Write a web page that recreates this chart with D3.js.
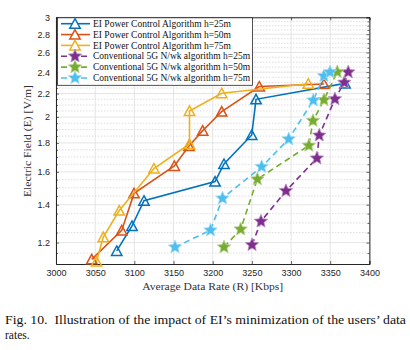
<!DOCTYPE html>
<html><head><meta charset="utf-8">
<script src="https://cdn.jsdelivr.net/npm/d3@7"></script>
<style>body{margin:0;background:#fff}svg{display:block}</style>
</head><body>
<svg id="c" width="410" height="350"></svg>
<script>
// ---- data ----
const xTicks = [3000,3050,3100,3150,3200,3250,3300,3350,3400];
const yTicks = [1.2,1.4,1.6,1.8,2,2.2,2.4,2.6,2.8,3];
const seriesNames = [
  "EI Power Control Algorithm h=25m",
  "EI Power Control Algorithm h=50m",
  "EI Power Control Algorithm h=75m",
  "Conventional 5G N/wk algorithm h=25m",
  "Conventional 5G N/wk algorithm h=50m",
  "Conventional 5G N/wk algorithm h=75m"
];
const eiRate25 = [3077.5,3097,3112.3,3203,3214.4,3249.8,3255.3,3368.9];
const eiField25 = [1.16,1.284,1.423,1.538,1.652,1.859,2.149,2.293];
const eiRate50 = [3045.6,3083.9,3099.6,3151,3169.7,3187.2,3211.5,3259.5,3342];
const eiField50 = [1.121,1.261,1.466,1.639,1.778,1.892,2.045,2.264,2.287];
const eiRate75 = [3051.7,3060.4,3080.7,3125,3170.4,3170.4,3211.5,3322];
const eiField75 = [1.111,1.227,1.367,1.622,1.792,2.05,2.203,2.29];
const convRate25 = [3250.2,3261.6,3293.5,3333,3336,3356,3368,3373];
const convField25 = [1.189,1.308,1.481,1.691,1.856,2.152,2.301,2.4];
const convRate50 = [3214.4,3235.7,3257,3322.7,3328,3342,3359];
const convField50 = [1.178,1.267,1.553,1.781,1.97,2.144,2.402];
const convRate75 = [3151.9,3197.2,3212.5,3262.5,3297,3328.4,3342,3349.7];
const convField75 = [1.178,1.262,1.437,1.634,1.828,2.141,2.363,2.40];
const caption1 = "Fig. 10.\u00a0\u00a0Illustration of the impact of EI\u2019s minimization of the users\u2019 data";
const caption2 = "rates.";

// ---- styles ----
const colors = ["#0072BD","#D95319","#EDB120","#7E2F8E","#77AC30","#4DBEEE"];
const series = [
  {x:eiRate25,y:eiField25,dash:null,mark:"tri"},
  {x:eiRate50,y:eiField50,dash:null,mark:"tri"},
  {x:eiRate75,y:eiField75,dash:null,mark:"tri"},
  {x:convRate25,y:convField25,dash:"6,4",mark:"star"},
  {x:convRate50,y:convField50,dash:"6,4",mark:"star"},
  {x:convRate75,y:convField75,dash:"6,4",mark:"star"}
].map((s,i)=>({...s,color:colors[i],name:seriesNames[i]}));

const svg = d3.select("#c");
const L=56, R=369.4, T=17.3, B=264;
const x = d3.scaleLinear().domain([3000,3400]).range([L,R]);
const y = d3.scaleLog().domain([1.1,3]).range([B,T]);
const axisCol = "#262626";
const sans = "'Liberation Sans', Arial, sans-serif";
const serif = "'Liberation Serif', 'DejaVu Serif', serif";

const minor = d3.range(23,60).map(v=>v*0.05).filter(v=>Math.abs(Math.round(v*5)-v*5)>1e-6 && v>1.12 && v<2.99);

const g = svg.append("g");
g.selectAll(".mg").data(minor).join("line")
  .attr("x1",L).attr("x2",R).attr("y1",d=>y(d)).attr("y2",d=>y(d))
  .attr("stroke","#c8c8c8").attr("stroke-width",0.6).attr("stroke-dasharray","1.5,1.5");
g.selectAll(".yg").data(yTicks).join("line")
  .attr("x1",L).attr("x2",R).attr("y1",d=>y(d)).attr("y2",d=>y(d))
  .attr("stroke","#dedede").attr("stroke-width",0.8);
g.selectAll(".xg").data(xTicks).join("line")
  .attr("y1",T).attr("y2",B).attr("x1",d=>x(d)).attr("x2",d=>x(d))
  .attr("stroke","#dedede").attr("stroke-width",0.8);

const fmtY = d=>d3.format("~g")(d);
const axB = svg.append("g").attr("transform",`translate(0,${B})`)
  .call(d3.axisBottom(x).tickValues(xTicks).tickSize(-3).tickPadding(6).tickFormat(d3.format("d")));
const axT = svg.append("g").attr("transform",`translate(0,${T})`)
  .call(d3.axisTop(x).tickValues(xTicks).tickSize(-3).tickFormat(""));
const axL = svg.append("g").attr("transform",`translate(${L},0)`)
  .call(d3.axisLeft(y).tickValues(yTicks).tickSize(-3).tickPadding(6).tickFormat(fmtY));
const axR = svg.append("g").attr("transform",`translate(${R},0)`)
  .call(d3.axisRight(y).tickValues(yTicks).tickSize(-3).tickFormat(""));
const axLm = svg.append("g").attr("transform",`translate(${L},0)`)
  .call(d3.axisLeft(y).tickValues(minor).tickSize(-2).tickFormat(""));
const axRm = svg.append("g").attr("transform",`translate(${R},0)`)
  .call(d3.axisRight(y).tickValues(minor).tickSize(-2).tickFormat(""));
[axB,axT,axL,axR,axLm,axRm].forEach(a=>{
  a.select(".domain").attr("stroke",axisCol).attr("stroke-width",1);
  a.selectAll(".tick line").attr("stroke",axisCol).attr("stroke-width",0.7);
  a.selectAll("text").attr("fill",axisCol).attr("font-family",sans).attr("font-size",9);
});
axLm.select(".domain").remove(); axRm.select(".domain").remove();

function starPath(r){
  const ri=r*0.45; let p=[];
  for(let k=0;k<10;k++){const a=-Math.PI/2+k*Math.PI/5; const rr=k%2?ri:r; p.push([rr*Math.cos(a),rr*Math.sin(a)]);}
  return "M"+p.map(q=>q[0].toFixed(2)+","+q[1].toFixed(2)).join("L")+"Z";
}
const triPath = "M0,-5L5.2,4.5L-5.2,4.5Z";
const star = starPath(7);
const lighter = c=>d3.interpolateRgb(c,"#ffffff")(0.45);

const line = d3.line().x(d=>x(d[0])).y(d=>y(d[1]));
const plot = svg.append("g");
series.forEach(s=>{
  const pts = s.x.map((v,i)=>[v,s.y[i]]);
  plot.append("path").attr("d",line(pts)).attr("fill","none")
    .attr("stroke",s.color).attr("stroke-width",1.6)
    .attr("stroke-dasharray",s.dash);
  plot.selectAll(null).data(pts).join("path")
    .attr("transform",d=>`translate(${x(d[0])},${y(d[1])})`)
    .attr("d",s.mark==="tri"?triPath:star)
    .attr("fill",s.mark==="tri"?"none":s.color)
    .attr("stroke",s.mark==="tri"?s.color:lighter(s.color))
    .attr("stroke-width",s.mark==="tri"?1.5:0.8)
    .attr("stroke-linejoin","miter");
});

const lg = svg.append("g");
const lx=57.5, ly=17.8, lw=195, lh=67.5;
lg.append("rect").attr("x",lx).attr("y",ly).attr("width",lw).attr("height",lh)
  .attr("fill","#fff").attr("stroke",axisCol).attr("stroke-width",0.8);
series.forEach((s,i)=>{
  const yy = 23.7 + i*10.85;
  lg.append("line").attr("x1",61).attr("x2",90).attr("y1",yy).attr("y2",yy)
    .attr("stroke",s.color).attr("stroke-width",1.6).attr("stroke-dasharray",s.dash);
  lg.append("path").attr("transform",`translate(75,${yy})`)
    .attr("d",s.mark==="tri"?triPath:star)
    .attr("fill",s.mark==="tri"?"#fff":s.color)
    .attr("stroke",s.mark==="tri"?s.color:lighter(s.color))
    .attr("stroke-width",s.mark==="tri"?1.5:0.8);
  lg.append("text").attr("x",93).attr("y",yy+3.2).text(s.name)
    .attr("font-family",serif).attr("font-size",9.5).attr("fill","#111")
    .attr("textLength",i<3?138:157).attr("lengthAdjust","spacingAndGlyphs");
});

svg.append("text").attr("x",(L+R)/2).attr("y",290).attr("text-anchor","middle")
  .attr("font-family",serif).attr("font-size",10).attr("fill","#333")
  .attr("textLength",141).attr("lengthAdjust","spacingAndGlyphs")
  .text("Average Data Rate (R) [Kbps]");
svg.append("text").attr("transform",`translate(31,${141}) rotate(-90)`).attr("text-anchor","middle")
  .attr("font-family",serif).attr("font-size",10).attr("fill","#333")
  .attr("textLength",112).attr("lengthAdjust","spacingAndGlyphs")
  .text("Electric Field (E) [V/m]");

svg.append("text").attr("x",5).attr("y",324).attr("font-family",serif).attr("font-size",11.5)
  .attr("fill","#111").attr("textLength",401).attr("lengthAdjust","spacingAndGlyphs").text(caption1);
svg.append("text").attr("x",5).attr("y",339).attr("font-family",serif).attr("font-size",11.5)
  .attr("fill","#111").text(caption2);
</script>
</body></html>
